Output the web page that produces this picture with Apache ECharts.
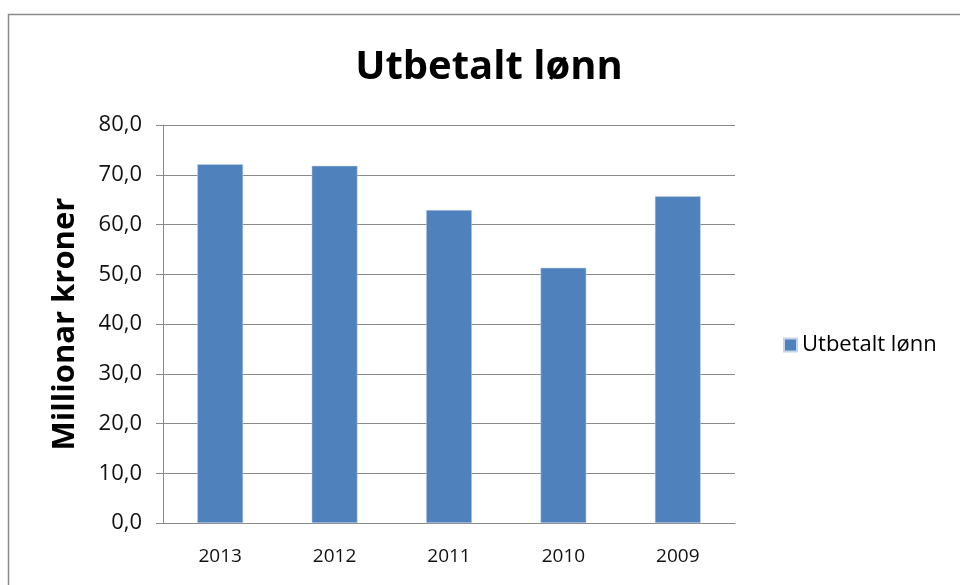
<!DOCTYPE html>
<html>
<head>
<meta charset="utf-8">
<script src="https://cdn.jsdelivr.net/npm/echarts@6/dist/echarts.min.js"></script>
<style>
  html, body { margin: 0; padding: 0; background: #fff; }
  #chart { width: 960px; height: 585px; }
</style>
</head>
<body>
<div id="chart"></div>
<script>
const years = ['2013', '2012', '2011', '2010', '2009']
const utbetalt = [72.1, 71.8, 62.9, 51.3, 65.7]
const seriesName = 'Utbetalt lønn'

const chart = echarts.init(document.getElementById('chart'))
const font = '"Open Sans", "DejaVu Sans", sans-serif'

chart.setOption({
  animation: false,
  textStyle: { fontFamily: font },
  title: {
    text: 'Utbetalt lønn',
    left: 484,
    textAlign: 'center',
    top: 43,
    textStyle: { fontSize: 40, fontWeight: 'bold', color: '#000', fontFamily: font }
  },
  graphic: [{
    type: 'rect',
    shape: { x: 8.5, y: 14.5, width: 980, height: 620 },
    style: { fill: 'none', stroke: '#8a8a8a', lineWidth: 1.5 }
  }],
  legend: {
    data: [seriesName],
    orient: 'vertical',
    left: 778,
    top: 329,
    itemWidth: 13,
    itemHeight: 13,
    itemGap: 6,
    icon: 'rect',
    textStyle: { fontSize: 22, color: '#000', fontFamily: font }
  },
  grid: { left: 163, right: 225, top: 125, bottom: 62 },
  xAxis: {
    type: 'category',
    data: years,
    axisLine: { lineStyle: { color: '#8a8a8a', width: 1 } },
    axisTick: { show: false },
    axisLabel: { fontSize: 19, color: '#111', margin: 24 }
  },
  yAxis: {
    type: 'value',
    min: 0,
    max: 80,
    interval: 10,
    name: 'Millionar kroner',
    nameLocation: 'middle',
    nameGap: 82,
    nameRotate: 90,
    nameTextStyle: { fontSize: 31, fontWeight: 'bold', color: '#000', fontFamily: font },
    axisLine: { show: true, lineStyle: { color: '#8a8a8a', width: 1 } },
    axisTick: { show: true, inside: false, length: 7, lineStyle: { color: '#8a8a8a' } },
    splitLine: { lineStyle: { color: '#8a8a8a', width: 1 } },
    axisLabel: {
      fontSize: 22,
      color: '#111',
      margin: 21,
      formatter: v => v.toFixed(1).replace('.', ',')
    }
  },
  series: [{
    name: seriesName,
    type: 'bar',
    data: utbetalt,
    barWidth: '40%',
    itemStyle: { color: '#4f81bd', borderColor: '#c4d4ea', borderWidth: 0.5 }
  }]
})
</script>
</body>
</html>
